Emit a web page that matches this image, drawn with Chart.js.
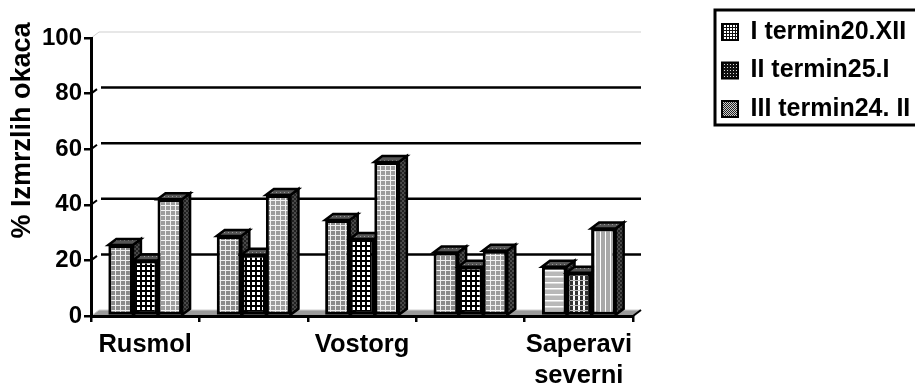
<!DOCTYPE html>
<html>
<head>
<meta charset="utf-8">
<style>
html, body { margin: 0; padding: 0; background: #fff; overflow: hidden; }
#wrap { width: 915px; height: 383px; }
</style>
<script src="https://cdn.jsdelivr.net/npm/chart.js@4"></script>
</head>
<body>
<div id="wrap"><canvas id="myChart"></canvas></div>
<script>
var categories = ['Rusmol', '', 'Vostorg', '', ['Saperavi', 'severni']];
var seriesNames = ['I termin20.XII', 'II termin25.I', 'III termin24. II'];
var termin1 = [25.5, 28.8, 34.5, 22.8, 17.7];
var termin2 = [20, 22, 27.7, 17.7, 15.6];
var termin3 = [42, 43.5, 55.4, 23.5, 31.5];
var yTicks = [0, 20, 40, 60, 80, 100];
var yTitle = '% Izmrzlih okaca';

var fontName = '"Liberation Sans", Arial, sans-serif';
var depthX = 8, depthY = 6;

// small tiled fills, the original is a black and white print
function tile(size, bg, paint) {
    var c = document.createElement('canvas');
    c.width = size; c.height = size;
    var g = c.getContext('2d');
    g.fillStyle = bg;
    g.fillRect(0, 0, size, size);
    paint(g);
    return g.createPattern(c, 'repeat');
}
function gridTile(size, bg, line, w) {
    return tile(size, bg, function (g) {
        g.fillStyle = line;
        g.fillRect(0, 0, size, w);
        g.fillRect(0, 0, w, size);
    });
}
var greyGrid = gridTile(5, '#8a8a8a', '#eeeeee', 1);
var blackGrid = tile(5, '#ffffff', function (g) {
    g.fillStyle = '#000';
    g.fillRect(0, 0, 5, 2);
    g.fillRect(0, 0, 2, 5);
});
var fineGrid = gridTile(5, '#9c9c9c', '#f2f2f2', 1);
var hStripes = tile(6, '#b8b8b8', function (g) {
    g.fillStyle = '#fff';
    g.fillRect(0, 0, 6, 1.5);
});
var vDark = tile(5, '#ffffff', function (g) {
    g.fillStyle = '#333';
    g.fillRect(0, 0, 3, 5);
    g.fillStyle = '#bbb';
    g.fillRect(0, 0, 5, 1);
});
var vLight = tile(5, '#a8a8a8', function (g) {
    g.fillStyle = '#fff';
    g.fillRect(0, 0, 1, 5);
});
var sideFill = tile(4, '#4a4a4a', function (g) {
    g.fillStyle = '#222';
    g.fillRect(0, 0, 2, 2);
    g.fillRect(2, 2, 2, 2);
});
var topFill = tile(4, '#555', function (g) {
    g.fillStyle = '#999';
    g.fillRect(0, 0, 1, 1);
});
var keyFills = [
    gridTile(3, '#fff', '#111', 1),
    tile(3, '#111', function (g) { g.fillStyle = '#ddd'; g.fillRect(1, 1, 1, 1); }),
    tile(2, '#ccc', function (g) { g.fillStyle = '#222'; g.fillRect(0, 0, 1, 1); g.fillRect(1, 1, 1, 1); })
];

var fills1 = [greyGrid, greyGrid, greyGrid, greyGrid, hStripes];
var fills2 = [blackGrid, blackGrid, blackGrid, blackGrid, vDark];
var fills3 = [fineGrid, fineGrid, fineGrid, fineGrid, vLight];

function drawDepth(c, meta) {
    c.save();
    c.lineWidth = 2.5;
    c.strokeStyle = '#000';
    meta.data.forEach(function (bar) {
        var l = bar.x - bar.width / 2, r = bar.x + bar.width / 2;
        c.fillStyle = sideFill;
        c.beginPath();
        c.moveTo(r, bar.y);
        c.lineTo(r + depthX, bar.y - depthY);
        c.lineTo(r + depthX, bar.base - depthY);
        c.lineTo(r, bar.base);
        c.closePath();
        c.fill();
        c.stroke();
        c.fillStyle = topFill;
        c.beginPath();
        c.moveTo(l, bar.y);
        c.lineTo(l + depthX, bar.y - depthY);
        c.lineTo(r + depthX, bar.y - depthY);
        c.lineTo(r, bar.y);
        c.closePath();
        c.fill();
        c.stroke();
    });
    c.restore();
}

// back wall, floor and the depth faces
var wall3d = {
    id: 'wall3d',
    afterLayout: function (chart) {
        var lg = chart.legend;
        lg.left = 708.5; lg.top = 6; lg.right = 915; lg.bottom = 135;
        lg.width = 206.5; lg.height = 129;
    },
    beforeDraw: function (chart) {
        var c = chart.ctx, a = chart.chartArea, y = chart.scales.y;
        c.save();
        c.fillStyle = '#9a9a9a';
        c.beginPath();
        c.moveTo(a.left, a.bottom);
        c.lineTo(a.left + depthX, a.bottom - depthY);
        c.lineTo(a.right + depthX, a.bottom - depthY);
        c.lineTo(a.right, a.bottom);
        c.closePath();
        c.fill();
        yTicks.forEach(function (v) {
            var py = y.getPixelForValue(v);
            var edge = v === 0 || v === 100;
            c.strokeStyle = edge ? '#cfcfcf' : '#000';
            c.lineWidth = edge ? 1 : 2.5;
            c.beginPath();
            c.moveTo(a.left + depthX + (edge ? 0 : 2), py - depthY);
            c.lineTo(a.right + depthX, py - depthY);
            c.stroke();
            c.lineWidth = edge ? 1 : 2;
            c.beginPath();
            c.moveTo(a.left, py);
            c.lineTo(a.left + depthX - (edge ? 0 : 2), py - depthY + (edge ? 0 : 1.5));
            c.stroke();
        });
        c.strokeStyle = '#000';
        c.lineWidth = 2;
        c.beginPath();
        c.moveTo(a.right, a.bottom);
        c.lineTo(a.right + depthX, a.bottom - depthY);
        c.stroke();
        c.restore();
    },
    // left bar first, so each bar covers the side of the one before it
    beforeDatasetsDraw: function (chart) {
        chart.data.datasets.forEach(function (ds, i) {
            var meta = chart.getDatasetMeta(i);
            drawDepth(chart.ctx, meta);
            meta.controller.draw();
        });
        return false;
    },
    afterDraw: function (chart) {
        var c = chart.ctx;
        c.save();
        // legend frame
        c.strokeStyle = '#000';
        c.lineWidth = 3;
        c.strokeRect(715, 10, 215, 115);
        // axis title sits higher than the scale would centre it
        c.translate(23, 130.5);
        c.rotate(-Math.PI / 2);
        c.fillStyle = '#000';
        c.font = 'bold 27px ' + fontName;
        c.textAlign = 'center';
        c.textBaseline = 'middle';
        c.fillText(yTitle, 0, 0);
        c.restore();
    }
};

var ctx = document.getElementById('myChart').getContext('2d');
var myChart = new Chart(ctx, {
    type: 'bar',
    data: {
        labels: categories,
        datasets: [
            { label: seriesNames[0], data: termin1, backgroundColor: fills1 },
            { label: seriesNames[1], data: termin2, backgroundColor: fills2 },
            { label: seriesNames[2], data: termin3, backgroundColor: fills3 }
        ]
    },
    plugins: [wall3d],
    options: {
        responsive: true,
        maintainAspectRatio: false,
        animation: false,
        layout: { padding: { top: 38, right: 282, left: 0, bottom: 0 } },
        datasets: {
            bar: {
                categoryPercentage: 0.68,
                barPercentage: 1,
                borderColor: '#000',
                borderWidth: 3,
                borderSkipped: false
            }
        },
        plugins: {
            tooltip: { enabled: false },
            legend: {
                position: 'chartArea',
                align: 'start',
                labels: {
                    boxWidth: 16,
                    boxHeight: 16,
                    padding: 13.5,
                    color: '#000',
                    font: { family: fontName, weight: 'bold', size: 25 },
                    generateLabels: function () {
                        return seriesNames.map(function (name, i) {
                            return { text: name, fillStyle: keyFills[i], strokeStyle: '#000', lineWidth: 2, datasetIndex: i };
                        });
                    }
                }
            }
        },
        scales: {
            x: {
                afterFit: function (s) { s.height = 67; },
                grid: { drawOnChartArea: false, color: '#000', lineWidth: 2.5, tickLength: 6 },
                border: { color: '#000', width: 3 },
                ticks: {
                    color: '#000',
                    autoSkip: false,
                    maxRotation: 0,
                    padding: 7,
                    font: { family: fontName, weight: 'bold', size: 25.5, lineHeight: 1.22 }
                }
            },
            y: {
                min: 0,
                max: 100,
                afterFit: function (s) { s.width = 91; },
                grid: { drawOnChartArea: false, color: '#000', lineWidth: 2.5, tickLength: 7 },
                border: { color: '#000', width: 3 },
                afterBuildTicks: function (s) {
                    s.ticks = yTicks.map(function (v) { return { value: v }; });
                },
                ticks: {
                    color: '#000',
                    padding: 2,
                    font: { family: fontName, weight: 'bold', size: 24 }
                }
            }
        }
    }
});
</script>
</body>
</html>
